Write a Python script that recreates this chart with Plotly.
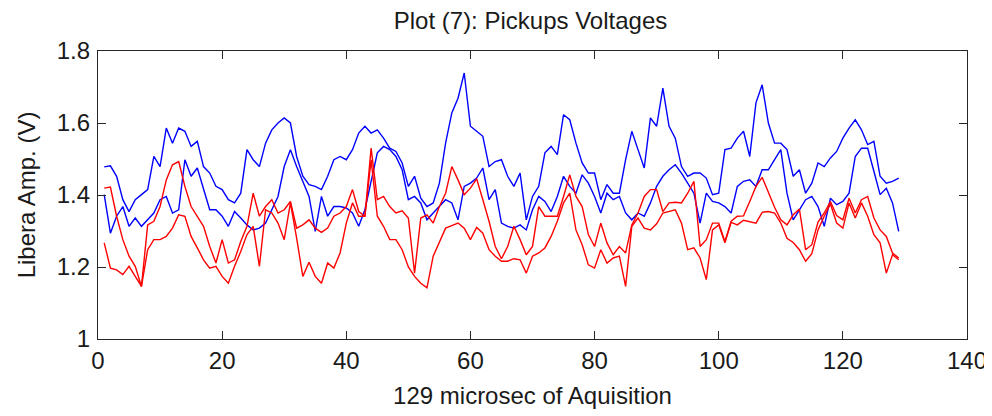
import plotly.graph_objects as go

# sample index 1..129
samples = list(range(1, 130))

# pickup voltages, two blue and two red channels
blue_a = [1.478, 1.481, 1.452, 1.387, 1.354, 1.387, 1.401, 1.415, 1.507, 1.479,
          1.586, 1.544, 1.586, 1.577, 1.535, 1.549, 1.479, 1.461, 1.424, 1.415,
          1.387, 1.378, 1.405, 1.526, 1.498, 1.479, 1.544, 1.581, 1.600, 1.614,
          1.600, 1.507, 1.452, 1.429, 1.424, 1.415, 1.452, 1.498, 1.507, 1.498,
          1.526, 1.572, 1.591, 1.572, 1.581, 1.558, 1.530, 1.521, 1.489, 1.424,
          1.452, 1.391, 1.368, 1.378, 1.433, 1.544, 1.628, 1.669, 1.739, 1.591,
          1.577, 1.563, 1.479, 1.493, 1.498, 1.452, 1.424, 1.461, 1.331, 1.396,
          1.424, 1.517, 1.535, 1.512, 1.623, 1.609, 1.544, 1.489, 1.461, 1.461,
          1.387, 1.429, 1.405, 1.405, 1.498, 1.577, 1.526, 1.475, 1.614, 1.591,
          1.697, 1.591, 1.558, 1.479, 1.452, 1.461, 1.461, 1.447, 1.401, 1.405,
          1.526, 1.530, 1.558, 1.577, 1.507, 1.656, 1.706, 1.600, 1.544, 1.544,
          1.526, 1.452, 1.470, 1.405, 1.433, 1.489, 1.479, 1.503, 1.521, 1.558,
          1.586, 1.609, 1.581, 1.540, 1.549, 1.452, 1.433, 1.438, 1.447]

blue_b = [1.401, 1.294, 1.341, 1.368, 1.313, 1.336, 1.313, 1.331, 1.350, 1.387,
          1.396, 1.350, 1.359, 1.498, 1.452, 1.475, 1.415, 1.359, 1.359, 1.341,
          1.313, 1.354, 1.336, 1.317, 1.303, 1.308, 1.322, 1.359, 1.396, 1.479,
          1.526, 1.479, 1.438, 1.396, 1.299, 1.396, 1.341, 1.368, 1.368, 1.364,
          1.350, 1.313, 1.359, 1.442, 1.517, 1.535, 1.526, 1.507, 1.470, 1.387,
          1.396, 1.378, 1.331, 1.350, 1.368, 1.387, 1.378, 1.331, 1.424, 1.433,
          1.447, 1.475, 1.387, 1.415, 1.322, 1.313, 1.308, 1.317, 1.303, 1.359,
          1.396, 1.382, 1.354, 1.396, 1.452, 1.424, 1.405, 1.456, 1.433, 1.396,
          1.350, 1.405, 1.387, 1.396, 1.350, 1.331, 1.350, 1.341, 1.378, 1.424,
          1.452, 1.470, 1.484, 1.461, 1.433, 1.405, 1.322, 1.405, 1.382, 1.378,
          1.368, 1.350, 1.424, 1.438, 1.442, 1.424, 1.470, 1.470, 1.498, 1.526,
          1.405, 1.331, 1.359, 1.387, 1.396, 1.368, 1.313, 1.391, 1.373, 1.382,
          1.405, 1.507, 1.530, 1.530, 1.466, 1.401, 1.419, 1.378, 1.299]

red_a = [1.419, 1.422, 1.341, 1.276, 1.230, 1.202, 1.146, 1.317, 1.327, 1.368,
         1.442, 1.484, 1.493, 1.424, 1.368, 1.341, 1.313, 1.257, 1.211, 1.276,
         1.211, 1.220, 1.271, 1.313, 1.405, 1.341, 1.368, 1.387, 1.350, 1.359,
         1.382, 1.308, 1.317, 1.331, 1.308, 1.296, 1.308, 1.341, 1.350, 1.368,
         1.415, 1.354, 1.341, 1.530, 1.387, 1.396, 1.368, 1.350, 1.356, 1.336,
         1.183, 1.336, 1.345, 1.322, 1.368, 1.405, 1.479, 1.442, 1.401, 1.419,
         1.445, 1.387, 1.327, 1.257, 1.223, 1.257, 1.313, 1.276, 1.234, 1.257,
         1.368, 1.341, 1.341, 1.341, 1.396, 1.456, 1.396, 1.368, 1.290, 1.257,
         1.322, 1.267, 1.234, 1.257, 1.239, 1.317, 1.350, 1.396, 1.415, 1.415,
         1.354, 1.378, 1.380, 1.378, 1.405, 1.438, 1.257, 1.276, 1.322, 1.322,
         1.271, 1.327, 1.341, 1.342, 1.382, 1.424, 1.449, 1.405, 1.366, 1.331,
         1.317, 1.345, 1.361, 1.248, 1.262, 1.325, 1.350, 1.382, 1.343, 1.331,
         1.391, 1.350, 1.387, 1.396, 1.336, 1.303, 1.285, 1.239, 1.225]

red_b = [1.267, 1.197, 1.192, 1.179, 1.202, 1.174, 1.146, 1.248, 1.276, 1.276,
         1.285, 1.308, 1.345, 1.341, 1.285, 1.253, 1.220, 1.197, 1.202, 1.174,
         1.155, 1.202, 1.243, 1.290, 1.313, 1.202, 1.359, 1.350, 1.322, 1.276,
         1.378, 1.280, 1.174, 1.213, 1.174, 1.155, 1.211, 1.197, 1.239, 1.322,
         1.378, 1.341, 1.341, 1.498, 1.341, 1.313, 1.276, 1.276, 1.248, 1.200,
         1.174, 1.155, 1.142, 1.230, 1.271, 1.308, 1.315, 1.322, 1.308, 1.276,
         1.310, 1.294, 1.248, 1.230, 1.216, 1.216, 1.223, 1.220, 1.183, 1.230,
         1.239, 1.253, 1.285, 1.327, 1.378, 1.405, 1.303, 1.262, 1.206, 1.197,
         1.248, 1.211, 1.225, 1.230, 1.146, 1.313, 1.336, 1.308, 1.303, 1.320,
         1.350, 1.354, 1.359, 1.322, 1.248, 1.253, 1.225, 1.165, 1.303, 1.317,
         1.267, 1.324, 1.317, 1.330, 1.325, 1.322, 1.352, 1.354, 1.350, 1.322,
         1.280, 1.268, 1.248, 1.216, 1.237, 1.303, 1.341, 1.375, 1.322, 1.308,
         1.378, 1.336, 1.378, 1.341, 1.290, 1.267, 1.183, 1.234, 1.220]

x_ticks = [0, 20, 40, 60, 80, 100, 120, 140]
y_ticks = [1.0, 1.2, 1.4, 1.6, 1.8]
y_tick_labels = ['1', '1.2', '1.4', '1.6', '1.8']

fig = go.Figure()

# blue pickups first, red drawn over them
for vals in (blue_a, blue_b):
    fig.add_trace(go.Scatter(x=samples, y=vals, mode='lines',
                             line=dict(color='#0000ff', width=1.4), showlegend=False))
for vals in (red_a, red_b):
    fig.add_trace(go.Scatter(x=samples, y=vals, mode='lines',
                             line=dict(color='#ff0000', width=1.4), showlegend=False))

axis_style = dict(
    showgrid=False,
    zeroline=False,
    showline=True,
    linecolor='#262626',
    linewidth=1.2,
    mirror='ticks',
    ticks='inside',
    ticklen=8,
    tickcolor='#262626',
    tickfont=dict(size=24, color='#1a1a1a'),
    automargin=False,
)

fig.update_xaxes(range=[0, 140], tickvals=x_ticks, ticklabeloverflow='allow',
                 title=dict(text='129 microsec of Aquisition',
                            font=dict(size=24, color='#1a1a1a'), standoff=14),
                 **axis_style)
fig.update_yaxes(range=[1, 1.8], tickvals=y_ticks, ticktext=y_tick_labels,
                 ticklabelstandoff=2,
                 title=dict(text='Libera Amp. (V)',
                            font=dict(size=24, color='#1a1a1a'), standoff=14),
                 **axis_style)

# the page body adds an 8px offset, margins are shifted to make up for it
fig.update_layout(
    width=984,
    height=408,
    margin=dict(l=90, r=25, t=43, b=77),
    paper_bgcolor='white',
    plot_bgcolor='white',
    font=dict(family='Liberation Sans, Arial, sans-serif', color='#1a1a1a'),
    title=dict(text='Plot (7): Pickups Voltages', x=0.531, xanchor='center',
               y=0.968, yanchor='middle', font=dict(size=24)),
)

fig.write_html("out.html")
